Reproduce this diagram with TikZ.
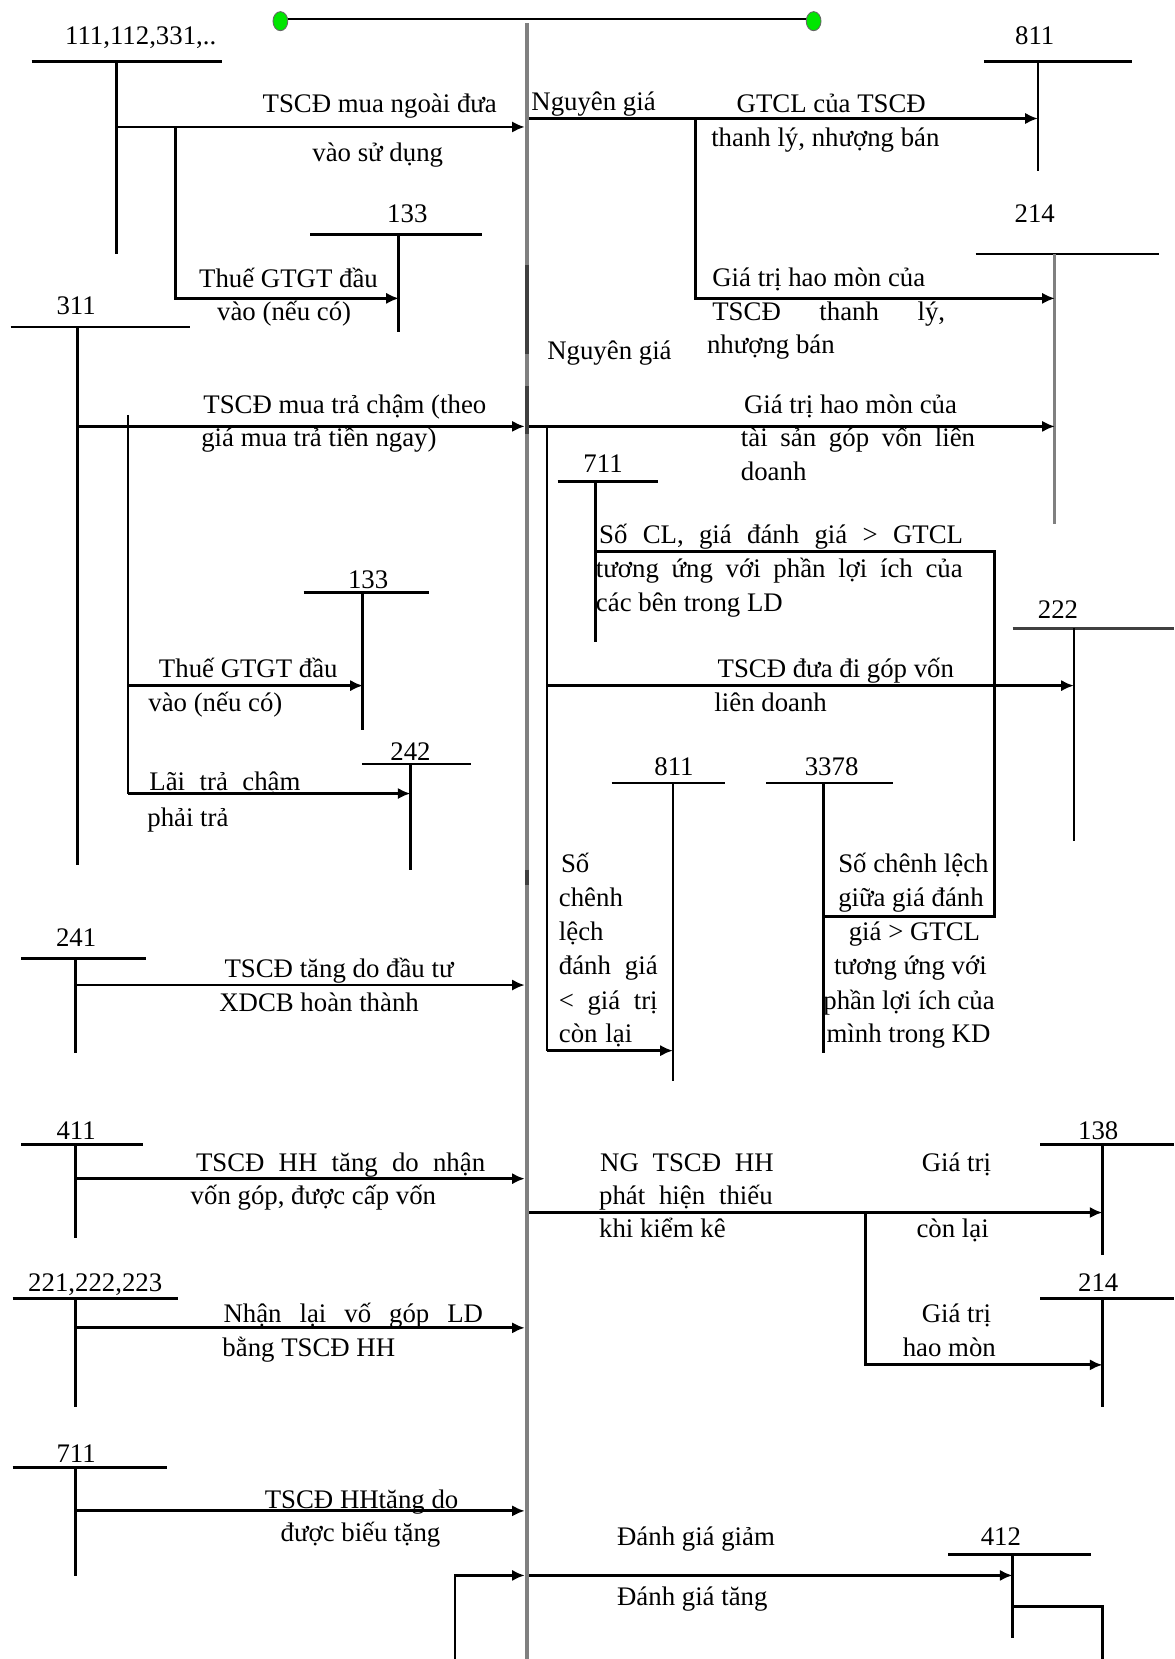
\documentclass[tikz,border=0pt]{standalone}
\usepackage{fontspec}
\setmainfont{Liberation Serif}
\usetikzlibrary{arrows.meta}
\newcommand\spr[2]{\makebox[#1pt][s]{#2}}
\definecolor{dotgreen}{RGB}{0,230,0}
\definecolor{axgray}{RGB}{128,128,128}
\definecolor{axdark}{RGB}{64,64,64}
\tikzset{
  ln/.style={line width=2pt},
  arr/.style={ln,-{Latex[length=9pt,width=8pt]}},
  tx/.style={inner sep=0pt, font=\fontsize{19}{24}\selectfont, anchor=base west},
  num/.style={inner sep=0pt, font=\fontsize{19}{24}\selectfont, anchor=base},
  axis/.style={line width=3.2pt, axgray},
  axisdark/.style={line width=3.2pt, axdark},
  gdot/.style={fill=dotgreen, draw=black!60, line width=0.6pt}
}
\begin{document}
\begin{tikzpicture}[x=0.75pt,y=-0.75pt]
\useasboundingbox (0,0) rectangle (1110,1568);
\fill[white] (0,0) rectangle (1110,1568);

% top connector with green dots
\coordinate (dl) at (265,20);
\coordinate (dr) at (769,20);
\coordinate (tl) at (265,18);
\coordinate (tr) at (769,18);
\draw[ln] (tl) -- (tr);
\filldraw[gdot] (dl) ellipse [x radius=7, y radius=9];
\filldraw[gdot] (dr) ellipse [x radius=7, y radius=9];

% central axis
\coordinate (axT) at (498,22);
\coordinate (axB) at (498,1568);
\draw[axis] (axT) -- (axB);
\draw[axisdark] (498,250) -- (498,335);
\draw[axisdark] (498,365) -- (498,410);
\draw[axisdark] (498,822) -- (498,836);

% ---------- T-accounts (left) ----------
\node[num] (n111) at (133,42) {111,112,331,..};
\draw[ln] (30,58) -- (210,58); \draw[ln] (110,58) coordinate (t111) -- (110,240);
\node[num] (n133a) at (385,210) {133};
\draw[ln] (293,222) -- (456,222); \draw[ln] (377,222) coordinate (t133a) -- (377,314);
\node[num] (n311) at (72,297) {311};
\draw[ln] (10,309) -- (180,309); \draw[ln] (73,309) coordinate (t311) -- (73,818);
\node[num] (n133b) at (348,556) {133};
\draw[ln] (287,560) -- (405,560); \draw[ln] (343,560) coordinate (t133b) -- (343,690);
\node[num] (n242) at (388,719) {242};
\draw[ln] (342,722) -- (445,722); \draw[ln] (388,722) coordinate (t242) -- (388,822);
\node[num] (n241) at (72,895) {241};
\draw[ln] (20,906) -- (138,906); \draw[ln] (71,906) coordinate (t241) -- (71,995);
\node[num] (n411) at (72,1077) {411};
\draw[ln] (20,1082) -- (135,1082); \draw[ln] (71,1082) coordinate (t411) -- (71,1170);
\node[num] (n221) at (90,1221) {221,222,223};
\draw[ln] (12,1227) -- (168,1227); \draw[ln] (71,1227) coordinate (t221) -- (71,1330);
\node[num] (n711l) at (72,1382) {711};
\draw[ln] (12,1387) -- (158,1387); \draw[ln] (71,1387) coordinate (t711l) -- (71,1490);

% ---------- T-accounts (right) ----------
\node[num] (n811t) at (978,42) {811};
\draw[ln] (930,58) -- (1070,58); \draw[ln] (981,58) coordinate (t811t) -- (981,162);
\node[num] (n214t) at (978,210) {214};
\draw[ln] (922,240) -- (1095,240); \draw[ln, axgray] (997,240) coordinate (t214t) -- (997,495);
\node[num] (n711r) at (570,447) {711};
\draw[ln] (527,455) -- (622,455); \draw[ln] (563,455) coordinate (t711r) -- (563,607);
\node[num] (n222) at (1000,585) {222};
\draw[ln, axdark] (957,594) -- (1110,594); \draw[ln] (1015,594) coordinate (t222) -- (1015,795);
\node[num] (n811m) at (637,733) {811};
\draw[ln] (578,740) -- (685,740); \draw[ln] (636,740) coordinate (t811m) -- (636,1022);
\node[num] (n3378) at (786,733) {3378};
\draw[ln] (724,740) -- (844,740); \draw[ln] (778,740) coordinate (t3378) -- (778,995);
\node[num] (n138) at (1038,1077) {138};
\draw[ln] (983,1082) -- (1110,1082); \draw[ln] (1042,1082) coordinate (t138) -- (1042,1186);
\node[num] (n214b) at (1038,1221) {214};
\draw[ln] (983,1227) -- (1110,1227); \draw[ln] (1042,1227) coordinate (t214b) -- (1042,1330);
\node[num] (n412) at (946,1461) {412};
\draw[ln] (896,1469) -- (1031,1469); \draw[ln] (957,1469) coordinate (t412) -- (957,1548);

% ---------- left connectors ----------
\draw[arr] (110,120) coordinate (s1) -- (496,120) coordinate (e1);
\draw[arr] (166,120) coordinate (s1b) -- (166,282) -- (377,282) coordinate (e1b);
\draw[arr] (73,403) coordinate (s2) -- (496,403) coordinate (e2);
\draw[ln] (121,392) coordinate (s2b) -- (121,750) coordinate (s2c);
\draw[arr] (121,648) coordinate (s2d) -- (343,648) coordinate (e2d);
\draw[arr] (s2c) -- (388,750) coordinate (e2c);
\draw[arr] (71,931) coordinate (s3) -- (496,931) coordinate (e3);
\draw[arr] (71,1114) coordinate (s4) -- (496,1114) coordinate (e4);
\draw[arr] (71,1255) coordinate (s5) -- (496,1255) coordinate (e5);
\draw[arr] (71,1428) coordinate (s6) -- (496,1428) coordinate (e6);

% ---------- right connectors ----------
\draw[arr] (500,112) coordinate (r1) -- (981,112) coordinate (f1);
\draw[arr] (657,112) coordinate (r1b) -- (657,282) -- (997,282) coordinate (f1b);
\draw[arr] (500,403) coordinate (r2) -- (997,403) coordinate (f2);
\draw[ln] (517,403) coordinate (r2b) -- (517,993) coordinate (r2c);
\draw[arr] (r2c) -- (636,993) coordinate (f2c);
\draw[arr] (517,648) coordinate (r2d) -- (1015,648) coordinate (f2d);
\draw[ln] (563,521) coordinate (bx1) -- (940,521) -- (940,866) -- (778,866) coordinate (bx2);
\draw[arr] (500,1146) coordinate (r3) -- (1042,1146) coordinate (f3);
\draw[arr] (818,1146) coordinate (r3b) -- (818,1290) -- (1042,1290) coordinate (f3b);
\draw[arr] (430,1568) coordinate (r4) -- (430,1489) -- (496,1489) coordinate (f4);
\draw[arr] (500,1489) coordinate (r5) -- (957,1489) coordinate (f5);
\draw[ln] (957,1518) coordinate (r6) -- (1042,1518) -- (1042,1568) coordinate (f6);

% ---------- left labels ----------
\node[tx] (l1a) at (248,106) {TSCĐ mua ngoài đưa};
\node[tx] (l1b) at (295,153) {vào sử dụng};
\node[tx] (l2a) at (188,272) {Thuế GTGT đầu};
\node[tx] (l2b) at (205,303) {vào (nếu có)};
\node[tx] (l3a) at (192,391) {TSCĐ mua trả chậm (theo};
\node[tx] (l3b) at (190,422) {giá mua trả tiền ngay)};
\node[tx] (l4a) at (150,640) {Thuế GTGT đầu};
\node[tx] (l4b) at (140,672) {vào (nếu có)};
\node[tx] (l5a) at (141,747) {\spr{107}{Lãi trả chậm}};
\node[tx] (l5b) at (139,781) {phải trả};
\node[tx] (l6a) at (212,924) {TSCĐ tăng do đầu tư};
\node[tx] (l6b) at (207,956) {XDCB hoàn thành};
\node[tx] (l7a) at (185,1107) {\spr{205}{TSCĐ HH tăng do nhận}};
\node[tx] (l7b) at (180,1138) {vốn góp, được cấp vốn};
\node[tx] (l8a) at (211,1250) {\spr{184}{Nhận lại vố góp LD}};
\node[tx] (l8b) at (210,1282) {bằng TSCĐ HH};
\node[tx] (l9a) at (250,1426) {TSCĐ HHtăng do};
\node[tx] (l9b) at (265,1457) {được biếu tặng};

% ---------- right labels ----------
\node[tx] (m1) at (502,104) {Nguyên giá};
\node[tx] (m2a) at (696,106) {GTCL của TSCĐ};
\node[tx] (m2b) at (672,138) {thanh lý, nhượng bán};
\node[tx] (m3a) at (673,271) {Giá trị hao mòn của};
\node[tx] (m3b) at (673,303) {\spr{165}{TSCĐ thanh lý,}};
\node[tx] (m3c) at (668,334) {nhượng bán};
\node[tx] (m4) at (517,340) {Nguyên giá};
\node[tx] (m5a) at (703,391) {Giá trị hao mòn của};
\node[tx] (m5b) at (700,422) {\spr{166}{tài sản góp vốn liên}};
\node[tx] (m5c) at (700,454) {doanh};
\node[tx] (m6a) at (566,514) {\spr{258}{Số CL, giá đánh giá > GTCL}};
\node[tx] (m6b) at (563,546) {\spr{260}{tương ứng với phần lợi ích của}};
\node[tx] (m6c) at (563,578) {các bên trong LD};
\node[tx] (m7a) at (678,640) {TSCĐ đưa đi góp vốn};
\node[tx] (m7b) at (675,672) {liên doanh};
\node[tx] (m8a) at (530,825) {Số};
\node[tx] (m8b) at (528,857) {chênh};
\node[tx] (m8c) at (528,889) {lệch};
\node[tx] (m8d) at (528,921) {\spr{70}{đánh giá}};
\node[tx] (m8e) at (528,954) {\spr{70}{< giá trị}};
\node[tx] (m8f) at (528,985) {\spr{52}{còn lại}};
\node[tx] (m9a) at (792,825) {Số chênh lệch};
\node[tx] (m9b) at (792,857) {giữa giá đánh};
\node[tx] (m9c) at (802,889) {giá > GTCL};
\node[tx] (m9d) at (788,921) {tương ứng với};
\node[tx] (m9e) at (778,954) {phần lợi ích của};
\node[tx] (m9f) at (781,985) {mình trong KD};
\node[tx] (m10a) at (567,1107) {\spr{123}{NG TSCĐ HH}};
\node[tx] (m10b) at (566,1138) {\spr{123}{phát hiện thiếu}};
\node[tx] (m10c) at (566,1170) {khi kiểm kê};
\node[tx] (m11a) at (871,1107) {Giá trị};
\node[tx] (m11b) at (866,1170) {còn lại};
\node[tx] (m12a) at (871,1250) {Giá trị};
\node[tx] (m12b) at (853,1282) {hao mòn};
\node[tx] (m13a) at (583,1461) {Đánh giá giảm};
\node[tx] (m13b) at (583,1517) {Đánh giá tăng};
\end{tikzpicture}
\end{document}
